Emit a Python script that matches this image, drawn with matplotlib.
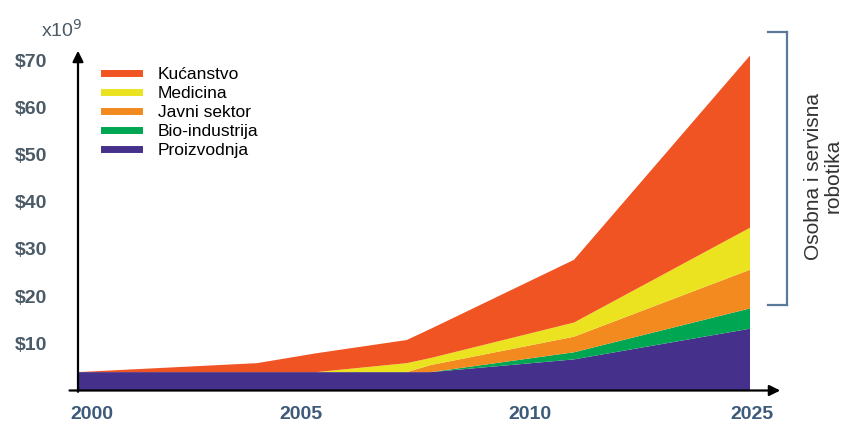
import matplotlib
matplotlib.use('Agg')
import matplotlib.pyplot as plt
from matplotlib.lines import Line2D

plt.rcParams['font.family'] = ['Liberation Sans', 'DejaVu Sans']

# x positions on the (non-linear) time axis: 2000 -> 0, 2005 -> ~1, 2010 -> ~2, 2025 -> 3
x = [-0.064, 0.75, 1.02, 1.43, 1.54, 2.19, 2.99]
tick_pos = [0.0, 0.95, 1.99, 3.0]
tick_labels = ['2000', '2005', '2010', '2025']

# layer thickness in $ x10^9 (bottom to top)
proizvodnja = [3.9, 3.9, 3.9, 3.9, 3.9, 6.6, 13.1]
bio_industrija = [0.0, 0.0, 0.0, 0.0, 0.0, 1.5, 4.3]
javni_sektor = [0.0, 0.0, 0.0, 0.0, 1.5, 3.3, 8.2]
medicina = [0.0, 0.0, 0.0, 1.9, 1.5, 3.0, 8.9]
kucanstvo = [0.0, 1.9, 4.0, 4.9, 6.2, 13.3, 36.5]

y_ticks = [10, 20, 30, 40, 50, 60, 70]
y_labels = ['$10', '$20', '$30', '$40', '$50', '$60', '$70']

names = ['Proizvodnja', 'Bio-industrija', 'Javni sektor', 'Medicina', 'Kućanstvo']
colors = ['#45318c', '#00a651', '#f28a1f', '#ece320', '#f05423']

fig = plt.figure(figsize=(8.46, 4.24), dpi=100)
ax = fig.add_axes([78 / 846, 1 - 390.5 / 424, (783 - 78) / 846, (390.5 - 48) / 424])
ax.stackplot(x, proizvodnja, bio_industrija, javni_sektor, medicina, kucanstvo,
             colors=colors, linewidth=0)
ax.set_xlim(-0.064, 3.14)
ax.set_ylim(0, 72.6)
for s in ax.spines.values():
    s.set_visible(False)

# axes with arrow heads
ax.annotate('', xy=(1.0, 0), xytext=(-0.016, 0), xycoords='axes fraction',
            arrowprops=dict(arrowstyle='-|>', color='black', lw=1.6, mutation_scale=16),
            annotation_clip=False)
ax.annotate('', xy=(0, 1.0), xytext=(0, -0.012), xycoords='axes fraction',
            arrowprops=dict(arrowstyle='-|>', color='black', lw=1.6, mutation_scale=16),
            annotation_clip=False)

ax.set_yticks(y_ticks)
ax.set_yticklabels(y_labels, fontsize=14, fontweight='bold', color='#4a5a66')
ax.set_xticks(tick_pos)
ax.set_xticklabels(tick_labels, fontsize=14, fontweight='bold', color='#3d5a7a')
ax.tick_params(axis='y', length=0, pad=22)
ax.tick_params(axis='x', length=0, pad=11)

fig.text(41 / 846, 1 - 37 / 424, r'x10$^{9}$', fontsize=14, color='#4a5a66')

# legend, top entry first
handles = [Line2D([], [], color=c, lw=5) for c in colors[::-1]]
ax.legend(handles, names[::-1], loc='upper left', bbox_to_anchor=(104 / 846, 1 - 67 / 424),
          bbox_transform=fig.transFigure, frameon=False, fontsize=12.5,
          handlelength=2.0, handletextpad=1.1, labelspacing=0.22,
          borderpad=0, borderaxespad=0)

# bracket on the right
bc = '#5b7a99'
fig.add_artist(Line2D([787 / 846, 787 / 846], [1 - 32 / 424, 1 - 305 / 424],
                      color=bc, lw=1.6, transform=fig.transFigure))
fig.add_artist(Line2D([768 / 846, 787 / 846], [1 - 32 / 424, 1 - 32 / 424],
                      color=bc, lw=1.6, transform=fig.transFigure))
fig.add_artist(Line2D([768 / 846, 787 / 846], [1 - 305 / 424, 1 - 305 / 424],
                      color=bc, lw=1.6, transform=fig.transFigure))
fig.text(823 / 846, 1 - 176 / 424, 'Osobna i servisna\nrobotika', rotation=90,
         ha='center', va='center', fontsize=15, color='#333333', linespacing=1.05)

fig.savefig('out.png', dpi=100)
